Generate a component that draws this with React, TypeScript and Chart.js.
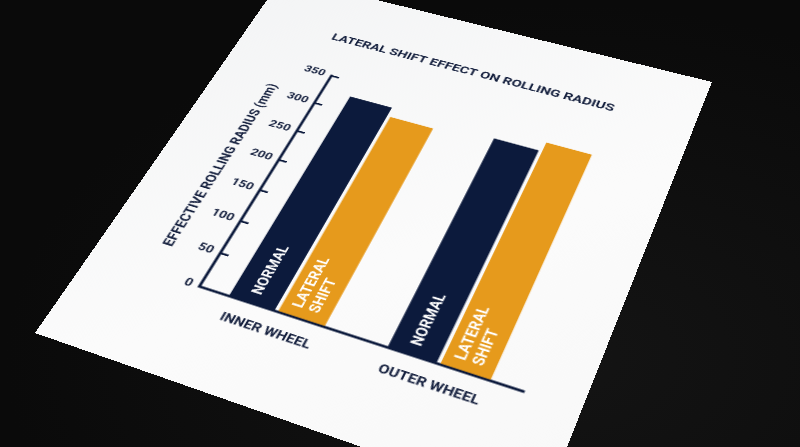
import { useEffect, useRef } from "react";
import { Chart, registerables } from "chart.js";

Chart.register(...registerables);

const categories = ["INNER WHEEL", "OUTER WHEEL"];
const normalRadius = [325, 320];
const lateralShiftRadius = [310, 335];
const seriesNames = ["NORMAL", "LATERAL SHIFT"];
const barCaptions = [["NORMAL"], ["LATERAL", "SHIFT"]];
const chartTitle = "LATERAL SHIFT EFFECT ON ROLLING RADIUS";
const yTitle = "EFFECTIVE ROLLING RADIUS (mm)";
const yMax = 350;
const yStep = 50;

const NAVY = "#0c1a3c";
const ORANGE = "#e69a1c";
const INK = "#16213f";
const FONT = "Roboto";

// sheet of paper, flat size, and where its corners land in the photo (TL, TR, BR, BL)
const PAPER_W = 500;
const PAPER_H = 570;
const corners = [
  [283, -23],
  [712, 82],
  [542, 510],
  [35, 333],
];

function paperTransform(w: number, h: number, q: number[][]) {
  const [[x0, y0], [x1, y1], [x2, y2], [x3, y3]] = q;
  const dx1 = x1 - x2, dx2 = x3 - x2, dx3 = x0 - x1 + x2 - x3;
  const dy1 = y1 - y2, dy2 = y3 - y2, dy3 = y0 - y1 + y2 - y3;
  const den = dx1 * dy2 - dx2 * dy1;
  const g = (dx3 * dy2 - dx2 * dy3) / den;
  const hh = (dx1 * dy3 - dx3 * dy1) / den;
  const a = x1 - x0 + g * x1, b = x3 - x0 + hh * x3;
  const d = y1 - y0 + g * y1, e = y3 - y0 + hh * y3;
  return `matrix3d(${a / w},${d / w},0,${g / w},${b / h},${e / h},0,${hh / h},0,0,1,0,${x0},${y0},0,1)`;
}

// title sits a bit right of the canvas centre, so it is drawn by hand
const titlePlugin = {
  id: "sheetTitle",
  afterDraw(chart: any) {
    const ctx = chart.ctx;
    ctx.save();
    ctx.fillStyle = INK;
    ctx.font = `bold 15.5px ${FONT}`;
    ctx.textAlign = "center";
    ctx.textBaseline = "middle";
    ctx.fillText(chartTitle, 256, 77);
    ctx.restore();
  },
};

const barCaptionPlugin = {
  id: "barCaptions",
  afterDatasetsDraw(chart: any) {
    const ctx = chart.ctx;
    chart.data.datasets.forEach((_ds: any, i: number) => {
      const lines = barCaptions[i];
      chart.getDatasetMeta(i).data.forEach((bar: any) => {
        const { x, base } = bar.getProps(["x", "base"], true);
        ctx.save();
        ctx.translate(x, base - 11);
        ctx.rotate(-Math.PI / 2);
        ctx.fillStyle = "#ffffff";
        ctx.font = `bold 16px ${FONT}`;
        ctx.textAlign = "left";
        ctx.textBaseline = "middle";
        lines.forEach((t, k) => ctx.fillText(t, 0, (k - (lines.length - 1) / 2) * 17));
        ctx.restore();
      });
    });
  },
};

export default function App() {
  const canvasEl: any = useRef(null);

  useEffect(() => {
    const ctx = canvasEl.current.getContext("2d");

    const data = {
      labels: categories,
      datasets: [
        {
          label: seriesNames[0],
          data: normalRadius,
          backgroundColor: NAVY,
          barPercentage: 0.93,
          categoryPercentage: 0.633,
        },
        {
          label: seriesNames[1],
          data: lateralShiftRadius,
          backgroundColor: ORANGE,
          barPercentage: 0.93,
          categoryPercentage: 0.633,
        },
      ],
    };

    const config: any = {
      type: "bar",
      data,
      plugins: [barCaptionPlugin, titlePlugin],
      options: {
        responsive: false,
        animation: false,
        devicePixelRatio: 2,
        layout: { padding: { left: 0, right: 53, top: 136, bottom: 51 } },
        plugins: {
          legend: { display: false },
          tooltip: { enabled: false },
          title: { display: false },
        },
        scales: {
          x: {
            grid: { display: false },
            border: { display: true, color: NAVY, width: 3 },
            ticks: {
              color: INK,
              padding: 9,
              font: { family: FONT, size: 14.5, weight: "bold" },
            },
            afterFit: (s: any) => {
              s.height = 60;
            },
          },
          y: {
            min: 0,
            max: yMax,
            ticks: {
              stepSize: yStep,
              color: INK,
              padding: 17,
              font: { family: FONT, size: 14, weight: "bold" },
            },
            grid: {
              drawOnChartArea: false,
              drawTicks: true,
              tickLength: -9,
              color: NAVY,
              lineWidth: 2.5,
            },
            border: { display: true, color: NAVY, width: 3 },
            title: {
              display: true,
              text: yTitle,
              color: INK,
              font: { family: FONT, size: 16, weight: "bold" },
              padding: { top: 58, bottom: 0 },
            },
            afterFit: (s: any) => {
              s.width = 120;
            },
          },
        },
      },
    };

    const chart = new Chart(ctx, config);
    return () => {
      chart.destroy();
    };
  }, []);

  return (
    <div
      style={{
        position: "fixed",
        inset: 0,
        overflow: "hidden",
        background: "radial-gradient(ellipse at 70% 80%, #141414 0%, #0a0a0a 70%)",
      }}
    >
      <div
        style={{
          position: "absolute",
          left: 0,
          top: 0,
          width: PAPER_W,
          height: PAPER_H,
          transformOrigin: "0 0",
          transform: paperTransform(PAPER_W, PAPER_H, corners),
          background: "linear-gradient(135deg, #f3f4f5 0%, #fbfbfb 60%, #f8f8f8 100%)",
        }}
      >
        <canvas
          ref={canvasEl}
          width={PAPER_W}
          height={PAPER_H}
          style={{ display: "block", width: PAPER_W, height: PAPER_H }}
        />
      </div>
    </div>
  );
}
